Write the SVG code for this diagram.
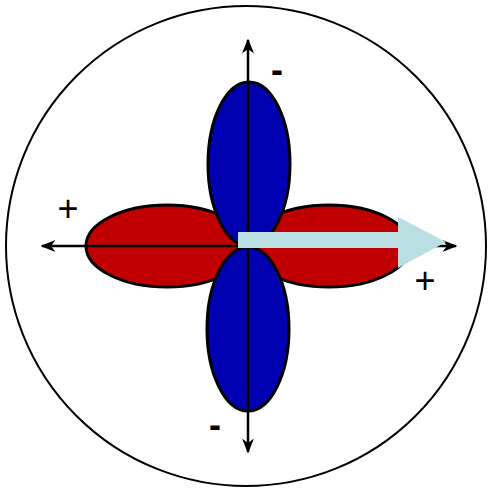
<svg xmlns="http://www.w3.org/2000/svg" width="490" height="492" viewBox="0 0 490 492">
<style>
.lobe{stroke:#000;stroke-width:3}
.red{fill:#c00000}
.blue{fill:#0000b0}
.axis{stroke:#000;stroke-width:2.5;fill:none}
.lbl{font-family:"Liberation Sans",Arial,sans-serif;font-size:36px;fill:#000;text-anchor:middle}
</style>
<defs>
<marker id="ah" viewBox="0 0 10 10" refX="9" refY="5" markerWidth="6" markerHeight="6" orient="auto" markerUnits="strokeWidth">
<path d="M0,1 L10,5 L0,9 L3,5 Z" fill="#000"/>
</marker>
</defs>
<rect width="490" height="492" fill="#fff"/>
<circle cx="246" cy="246" r="240" fill="#fff" stroke="#000" stroke-width="2"/>
<g id="lobe-left"><ellipse class="lobe red" cx="167" cy="246" rx="81" ry="41"/></g>
<g id="lobe-right"><ellipse class="lobe red" cx="329" cy="246" rx="81" ry="41"/></g>
<g id="lobe-top"><ellipse class="lobe blue" cx="249" cy="164" rx="41" ry="82"/></g>
<g id="lobe-bottom"><ellipse class="lobe blue" cx="248" cy="329" rx="41" ry="82"/></g>
<g id="connectors">
<line class="axis" x1="248" y1="246" x2="248" y2="40" marker-end="url(#ah)"/>
<line class="axis" x1="248" y1="246" x2="248" y2="452" marker-end="url(#ah)"/>
<line class="axis" x1="248" y1="246" x2="42" y2="246" marker-end="url(#ah)"/>
<line class="axis" x1="248" y1="246" x2="456" y2="246" marker-end="url(#ah)"/>
</g>
<g id="vector">
<path d="M238,232 L398,232 L398,217 L446,242 L398,268 L398,248 L238,248 Z" fill="#b9dfe3"/>
</g>
<g id="labels">
<text class="lbl" x="277" y="82" font-weight="bold">-</text>
<text class="lbl" x="68" y="221">+</text>
<text class="lbl" x="425" y="293">+</text>
<text class="lbl" x="215" y="437" font-weight="bold">-</text>
</g>
</svg>
